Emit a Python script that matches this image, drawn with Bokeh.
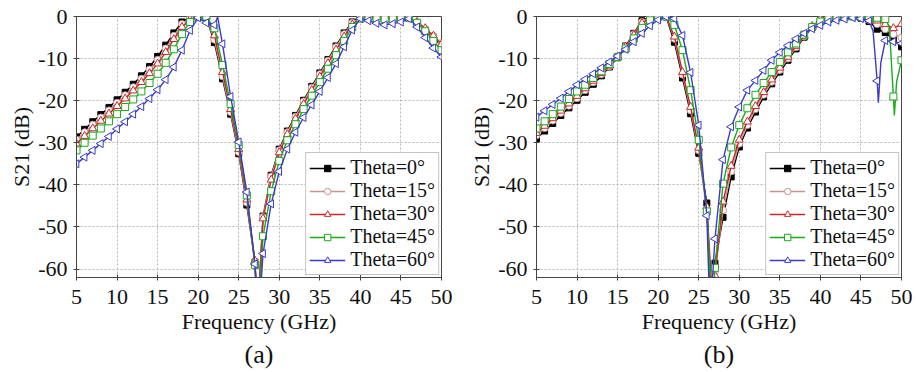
import math
from bokeh.plotting import figure
from bokeh.layouts import row
from bokeh.models import Range1d, FixedTicker, Legend, LegendItem
from bokeh.embed import file_html
from bokeh.resources import INLINE

# ---------------- data ----------------
FREQ_GHZ = [5, 6, 7, 8, 9, 10, 11, 12, 13, 14, 15, 16, 17, 18, 19, 20, 21, 22, 23, 24,
            25, 26, 27, 28, 29, 30, 31, 32, 33, 34, 35, 36, 37, 38, 39, 40, 41, 42, 43, 44,
            45, 46, 47, 48, 49, 50]
X_TICKS = [5, 10, 15, 20, 25, 30, 35, 40, 45, 50]
Y_TICKS = [0, -10, -20, -30, -40, -50, -60]
Y_TICK_LABELS = ["0", "-10", "-20", "-30", "-40", "-50", "-60"]
SERIES_LABELS = ["Theta=0°", "Theta=15°", "Theta=30°", "Theta=45°", "Theta=60°"]

# panel (a)
A_T0 = [-28.6, -26.8, -25.0, -23.3, -21.6, -19.8, -18.0, -16.1, -14.1, -11.9, -9.5, -6.8, -3.9, -1.3, -0.2, 0.0,
        -0.2, -6.2, -14.8, -23.2, -32.6, -44.8, -58.3, -47.4, -37.7, -31.5, -27.2, -23.5, -19.9, -16.6, -13.4,
        -10.2, -7.0, -3.9, -1.3, -0.1, 0.0, 0.0, -0.1, 0.0, 0.0, -0.4, -1.6, -3.2, -5.0, -7.0]
A_T15 = [-29.3, -27.5, -25.7, -24.0, -22.3, -20.5, -18.7, -16.8, -14.8, -12.6, -10.3, -7.6, -4.6, -1.8, -0.3, 0.0,
         -0.1, -5.5, -14.2, -22.7, -32.2, -44.2, -58.2, -47.6, -38.0, -31.8, -27.5, -23.8, -20.2, -16.9, -13.7,
         -10.5, -7.3, -4.2, -1.5, -0.2, 0.0, 0.0, -0.1, -0.1, -0.1, -0.5, -1.5, -3.0, -4.6, -6.3]
A_T30 = [-30.2, -28.4, -26.6, -24.8, -23.1, -21.3, -19.5, -17.6, -15.6, -13.5, -11.2, -8.5, -5.4, -2.5, -0.7, 0.0,
         0.0, -4.5, -13.2, -22.0, -31.5, -43.5, -58.0, -48.0, -38.8, -32.3, -28.0, -24.3, -20.8, -17.5, -14.3,
         -11.1, -7.9, -4.8, -1.9, -0.3, 0.0, 0.0, 0.0, 0.0, -0.1, -0.4, -1.3, -2.8, -4.6, -6.6]
A_T45 = [-31.8, -30.0, -28.3, -26.6, -24.9, -23.2, -21.5, -19.7, -17.8, -15.8, -13.6, -11.0, -7.8, -4.2, -1.3, -0.1,
         0.0, -2.8, -11.5, -20.8, -30.5, -42.5, -59.0, -52.2, -41.5, -34.3, -29.4, -25.6, -22.0, -18.8, -15.6,
         -12.4, -9.2, -5.8, -2.5, -0.5, -0.2, -0.5, -0.6, -0.5, -0.3, -0.3, -1.5, -3.5, -5.8, -8.0]
A_T60 = [-35.0, -33.4, -31.8, -30.2, -28.5, -26.7, -25.0, -23.2, -21.4, -19.5, -17.4, -15.0, -12.0, -8.0, -3.3, -0.3,
         -1.5, -2.0, -6.5, -19.0, -29.8, -41.7, -58.8, -56.3, -44.5, -36.8, -31.5, -27.5, -24.0, -21.0, -17.8,
         -14.5, -11.2, -7.2, -3.2, -0.5, -1.0, -1.6, -2.0, -1.7, -1.3, -0.5, -2.5, -5.0, -7.5, -9.6]
# extra line-only samples (frequency, dB) in the deep notches / sharp features of panel (a)
A_T0_EXTRA = [(27.3, -72.0)]
A_T15_EXTRA = [(27.3, -72.0)]
A_T30_EXTRA = [(27.32, -72.0)]
A_T45_EXTRA = [(27.38, -72.0)]
A_T60_EXTRA = [(22.4, -0.1), (27.45, -72.0)]

# panel (b)
B_T0 = [-29.0, -27.2, -25.4, -23.5, -21.7, -19.9, -18.0, -16.1, -14.1, -12.0, -9.8, -7.0, -4.0, -1.0, -0.2, 0.0,
        -0.1, -6.1, -14.6, -23.1, -32.5, -44.3, -58.6, -47.7, -38.1, -31.0, -26.5, -22.7, -19.1, -16.0, -13.2,
        -10.4, -7.7, -4.9, -2.5, -0.9, -0.3, -0.1, 0.0, 0.0, -0.4, -1.2, -3.0, -3.8, -5.5, -7.2]
B_T15 = [-28.2, -26.5, -24.7, -22.9, -21.2, -19.4, -17.5, -15.6, -13.7, -11.8, -9.8, -7.1, -4.2, -1.3, -0.3, 0.0,
         0.0, -5.3, -13.8, -22.3, -31.8, -46.5, -60.5, -46.0, -36.8, -30.2, -25.8, -22.0, -18.6, -15.5, -12.7,
         -10.0, -7.3, -4.7, -2.4, -0.8, -0.2, 0.0, 0.0, 0.0, -0.3, -0.8, -1.8, -3.0, -4.2, -5.0]
B_T30 = [-27.7, -26.0, -24.2, -22.4, -20.7, -18.9, -17.1, -15.3, -13.5, -11.7, -9.7, -7.2, -4.4, -1.6, -0.4, 0.0,
         0.0, -4.8, -13.2, -21.5, -31.2, -45.2, -61.5, -44.0, -35.5, -29.3, -25.0, -21.3, -18.0, -15.0, -12.2,
         -9.6, -7.0, -4.6, -2.3, -0.7, -0.2, 0.0, 0.0, 0.0, -0.2, -0.7, -1.0, -1.8, -2.8, -1.8]
B_T45 = [-26.6, -24.9, -23.2, -21.4, -19.6, -17.8, -16.2, -14.6, -13.0, -11.3, -9.6, -7.6, -5.2, -2.7, -0.9, -0.1,
         0.0, -2.0, -8.0, -17.5, -29.3, -46.3, -59.7, -39.7, -31.1, -25.8, -21.8, -18.6, -15.8, -13.2, -10.8,
         -8.5, -6.4, -4.3, -2.5, -1.2, -0.6, -0.3, -0.1, 0.0, -0.1, -0.2, -0.3, -0.6, -19.0, -10.4]
B_T60 = [-23.9, -22.4, -20.9, -19.4, -17.8, -16.2, -14.9, -13.6, -12.2, -10.8, -9.4, -7.8, -6.0, -4.0, -2.2, -0.8,
         -0.1, -0.5, -4.5, -13.3, -25.8, -47.3, -52.8, -34.0, -26.2, -21.5, -17.5, -15.2, -12.8, -10.4, -8.5,
         -6.9, -5.3, -4.0, -2.9, -2.1, -1.3, -0.9, -0.6, -0.3, -0.5, -1.0, -15.3, -5.7, -6.0, -6.4]
B_T0_EXTRA = [(26.6, -72.0)]
B_T15_EXTRA = [(26.75, -72.0)]
B_T30_EXTRA = [(26.85, -72.0)]
B_T45_EXTRA = [(26.7, -72.0), (48.5, -2.5), (49.12, -23.5), (49.4, -15.5)]
B_T60_EXTRA = [(26.4, -72.0), (46.5, -3.5), (47.15, -20.5), (47.45, -11.0)]

# ---------------- styles ----------------
FONT = "Liberation Serif"
COLORS = ["#000000", "#c89494", "#c82828", "#1aaa1a", "#3a3acc"]
MARKERS = ["square", "circle", "triangle", "square", "triangle"]
MARKER_FILL = ["#000000", "white", "white", "white", "white"]
MARKER_SIZE = [6, 7, 8, 7, 8]
MARKER_ANGLE = [0, 0, 0, 0, math.pi / 2]


def make_panel(values, extras, caption, width, border_left, border_right):
    p = figure(width=width, height=370,
               x_range=Range1d(5, 50), y_range=Range1d(-62, 0),
               output_backend="svg", toolbar_location=None,
               title=caption, title_location="below",
               min_border_left=border_left, min_border_right=border_right,
               min_border_top=16, min_border_bottom=93)
    p.background_fill_color = "white"
    p.border_fill_color = "white"
    p.outline_line_color = "#444444"
    p.outline_line_width = 1
    p.outline_line_alpha = 1.0

    p.title.text_font = FONT
    p.title.text_font_size = "26px"
    p.title.text_font_style = "normal"
    p.title.text_color = "#111111"
    p.title.align = "center"
    p.title.standoff = 2
    p.title.offset = 0

    p.xaxis.ticker = FixedTicker(ticks=X_TICKS)
    p.yaxis.ticker = FixedTicker(ticks=Y_TICKS)
    p.xaxis.major_label_overrides = {t: str(t) for t in X_TICKS}
    p.yaxis.major_label_overrides = dict(zip(Y_TICKS, Y_TICK_LABELS))
    p.xaxis.axis_label = "Frequency (GHz)"
    p.yaxis.axis_label = "S21 (dB)"
    for ax in (p.xaxis[0], p.yaxis[0]):
        ax.axis_label_text_font = FONT
        ax.axis_label_text_font_size = "22px"
        ax.axis_label_text_font_style = "normal"
        ax.axis_label_text_color = "#111111"
        ax.major_label_text_font = FONT
        ax.major_label_text_font_size = "22px"
        ax.major_label_text_font_style = "normal"
        ax.major_label_text_color = "#111111"
        ax.axis_line_color = "#444444"
        ax.major_tick_line_color = "#444444"
        ax.major_tick_in = 3
        ax.major_tick_out = 3
        ax.minor_tick_line_color = None
    p.xaxis.major_label_standoff = 9
    p.xaxis.axis_label_standoff = 2
    p.yaxis.major_label_standoff = 6
    p.yaxis.axis_label_standoff = 1

    p.xgrid.ticker = FixedTicker(ticks=X_TICKS)
    p.ygrid.ticker = FixedTicker(ticks=Y_TICKS)
    for g in (p.xgrid[0], p.ygrid[0]):
        g.grid_line_color = "#b4b4b4"
        g.grid_line_dash = "2 2"
        g.grid_line_width = 1

    items = []
    for i, (vals, extra) in enumerate(zip(values, extras)):
        pts = sorted(list(zip(FREQ_GHZ, vals)) + list(extra))
        xs = [a for a, _ in pts]
        ys = [b for _, b in pts]
        ln = p.line(xs, ys, line_color=COLORS[i], line_width=1.4)
        sc = p.scatter(FREQ_GHZ, vals, marker=MARKERS[i], size=MARKER_SIZE[i],
                       angle=MARKER_ANGLE[i], line_color=COLORS[i], line_width=1,
                       fill_color=MARKER_FILL[i])
        items.append(LegendItem(label=SERIES_LABELS[i], renderers=[ln, sc]))

    legend = Legend(items=items, location="bottom_right")
    legend.label_text_font = FONT
    legend.label_text_font_size = "20px"
    legend.label_text_font_style = "normal"
    legend.label_text_color = "#111111"
    legend.glyph_width = 36
    legend.glyph_height = 16
    legend.label_height = 23
    legend.label_standoff = 5
    legend.spacing = 0
    legend.padding = 3
    legend.margin = 2
    legend.border_line_color = "#888888"
    legend.border_line_width = 1
    legend.background_fill_alpha = 1.0
    p.add_layout(legend)
    return p


pa = make_panel([A_T0, A_T15, A_T30, A_T45, A_T60],
                [A_T0_EXTRA, A_T15_EXTRA, A_T30_EXTRA, A_T45_EXTRA, A_T60_EXTRA],
                "(a)", 458, 76, 17)
pb = make_panel([B_T0, B_T15, B_T30, B_T45, B_T60],
                [B_T0_EXTRA, B_T15_EXTRA, B_T30_EXTRA, B_T45_EXTRA, B_T60_EXTRA],
                "(b)", 456, 78, 13)

layout = row(pa, pb)
open("out.html", "w").write(file_html(layout, INLINE))
